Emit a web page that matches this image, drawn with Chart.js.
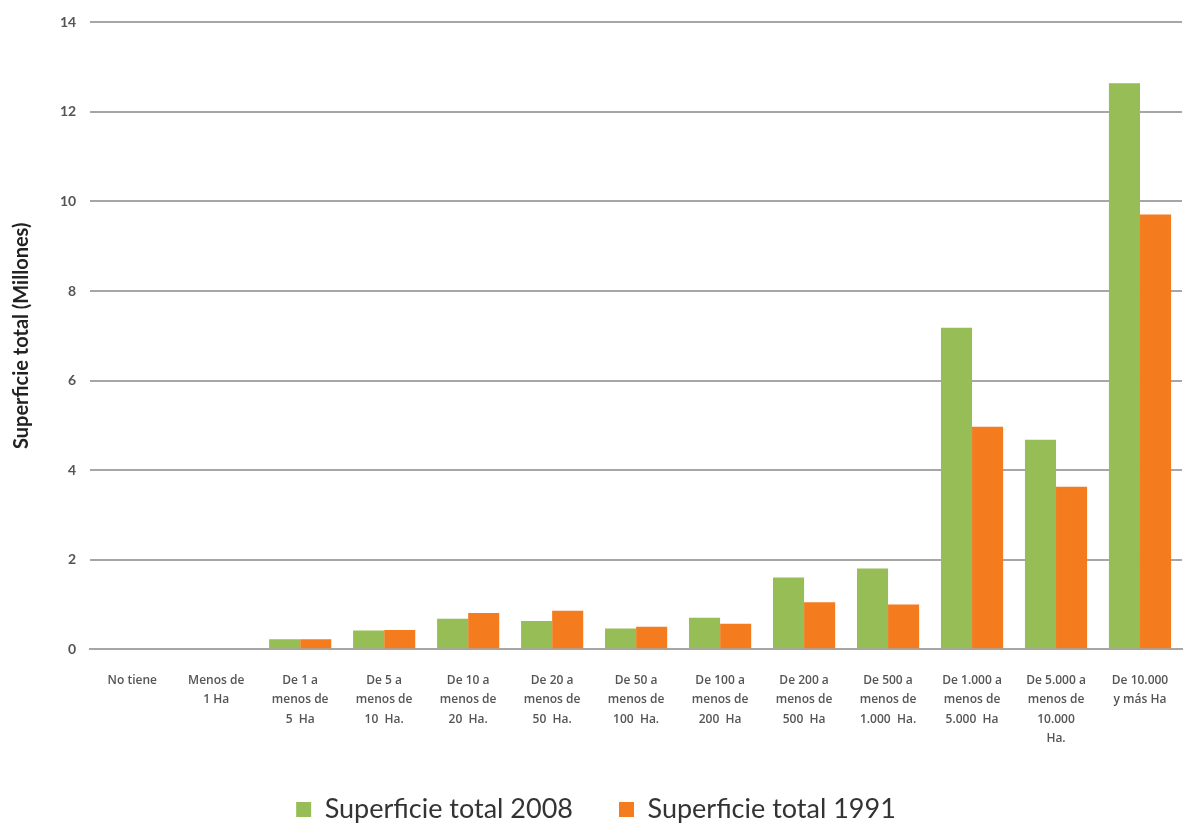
<!DOCTYPE html>
<html>
<head>
<meta charset="utf-8">
<script src="https://cdn.jsdelivr.net/npm/chart.js@4/dist/chart.umd.min.js"></script>
<style>
  html, body { margin: 0; padding: 0; background: #fff; }
  #wrap { width: 1184px; height: 825px; }
</style>
</head>
<body>
<div id="wrap"><canvas id="c"></canvas></div>
<script>
// categories (multi-line tick labels)
var categories = [
  ['No tiene'],
  ['Menos de', '1 Ha'],
  ['De 1 a', 'menos de', '5  Ha'],
  ['De 5 a', 'menos de', '10  Ha.'],
  ['De 10 a', 'menos de', '20  Ha.'],
  ['De 20 a', 'menos de', '50  Ha.'],
  ['De 50 a', 'menos de', '100  Ha.'],
  ['De 100 a', 'menos de', '200  Ha'],
  ['De 200 a', 'menos de', '500  Ha'],
  ['De 500 a', 'menos de', '1.000  Ha.'],
  ['De 1.000 a', 'menos de', '5.000  Ha'],
  ['De 5.000 a', 'menos de', '10.000', 'Ha.'],
  ['De 10.000', 'y más Ha']
]
var total2008 = [0, 0, 0.22, 0.42, 0.68, 0.63, 0.46, 0.70, 1.60, 1.80, 7.18, 4.68, 12.64]
var total1991 = [0, 0, 0.22, 0.43, 0.81, 0.86, 0.50, 0.57, 1.05, 1.00, 4.97, 3.63, 9.71]
var yTicks = [0, 2, 4, 6, 8, 10, 12, 14]

var FONT = 'Lato, "Open Sans", sans-serif'
Chart.defaults.font.family = FONT
Chart.defaults.color = '#444'

var ctx = document.getElementById('c').getContext('2d')
var chart = new Chart(ctx, {
  type: 'bar',
  data: {
    labels: categories,
    datasets: [
      {label: 'Superficie total 2008', data: total2008, backgroundColor: '#97bd57', borderWidth: 0},
      {label: 'Superficie total 1991', data: total1991, backgroundColor: '#f47b1e', borderWidth: 0}
    ]
  },
  options: {
    responsive: true,
    maintainAspectRatio: false,
    animation: false,
    categoryPercentage: 0.74,
    barPercentage: 1.0,
    layout: {padding: {top: 14, right: 2, left: 10, bottom: -8}},
    plugins: {
      tooltip: {enabled: false},
      legend: {
        position: 'bottom',
        labels: {
          color: '#333',
          font: {size: 27, family: FONT},
          boxWidth: 15,
          boxHeight: 15,
          padding: 46
        }
      }
    },
    scales: {
      x: {
        grid: {display: false},
        border: {display: true, color: '#a6a6a6', width: 2},
        afterFit: function(axis){ axis.height = axis.height - 12 },
        ticks: {
          color: '#555',
          font: {size: 12, weight: '600', family: '"Open Sans", sans-serif', lineHeight: 1.6},
          maxRotation: 0,
          autoSkip: false,
          padding: 14
        }
      },
      y: {
        min: 0,
        max: 14,
        afterBuildTicks: function(axis){ axis.ticks = yTicks.map(function(v){ return {value: v} }) },
        grid: {color: '#a6a6a6', lineWidth: 2, drawTicks: false},
        border: {display: false},
        ticks: {
          color: '#555',
          font: {size: 14, weight: 'bold', family: FONT},
          padding: 14
        },
        title: {
          display: true,
          text: 'Superficie total (Millones)',
          color: '#222',
          font: {size: 20, weight: 'bold', family: FONT},
          padding: {top: 0, bottom: 12}
        }
      }
    }
  }
})
</script>
</body>
</html>
